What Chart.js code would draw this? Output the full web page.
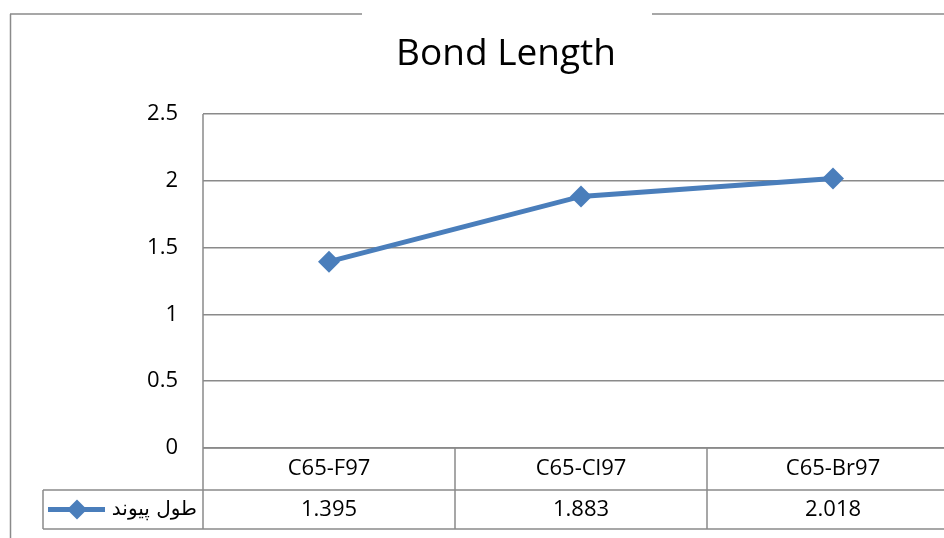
<!DOCTYPE html>
<html>
<head>
<meta charset="utf-8">
<script src="https://cdn.jsdelivr.net/npm/chart.js@4"></script>
<style>
body { margin: 0; overflow: hidden; background: #fff; }
</style>
</head>
<body>
<canvas id="BondChart" width="970" height="538"></canvas>
<script>
// bond length chart with excel style data table

var chartTitle = 'Bond Length';
var seriesName = 'طول پیوند';
var categories = ['C65-F97', 'C65-Cl97', 'C65-Br97'];
var bondLength = [1.395, 1.883, 2.018];
var yMin = 0;
var yMax = 2.5;
var yStep = 0.5;

var lineColor = '#4a7ebb';
var gridColor = '#8a8a8a';
var font = '"Open Sans", "DejaVu Sans", sans-serif';

function hline(ctx, x1, x2, y) {
    ctx.beginPath();
    ctx.moveTo(x1, y);
    ctx.lineTo(x2, y);
    ctx.stroke();
}

function vline(ctx, x, y1, y2) {
    ctx.beginPath();
    ctx.moveTo(x, y1);
    ctx.lineTo(x, y2);
    ctx.stroke();
}

var tablePlugin = {
    id: 'dataTable',
    afterDraw: function(chart) {
        var ctx = chart.ctx;
        var area = chart.chartArea;
        var xs = chart.scales.x;
        var w = chart.width;
        var top = area.bottom;
        var mid = area.bottom + 42;
        var bottom = area.bottom + 81;

        ctx.save();
        ctx.strokeStyle = gridColor;
        ctx.lineWidth = 1.5;

        // outer frame (gap behind the title)
        hline(ctx, 10, 362, 14);
        hline(ctx, 652, w, 14);
        vline(ctx, 10.5, 14, 538);

        // table grid
        vline(ctx, area.left, area.top, bottom);
        hline(ctx, area.left, w, top);
        hline(ctx, 43, w, mid);
        hline(ctx, 43, w, bottom);
        vline(ctx, 43, mid, bottom);
        for (var i = 0; i < categories.length - 1; i++) {
            var b = (xs.getPixelForValue(i) + xs.getPixelForValue(i + 1)) / 2;
            vline(ctx, b, top, bottom);
        }

        // category and value cells
        ctx.fillStyle = '#000';
        ctx.font = '22px ' + font;
        ctx.textAlign = 'center';
        ctx.textBaseline = 'middle';
        for (var j = 0; j < categories.length; j++) {
            var cx = xs.getPixelForValue(j);
            ctx.fillText(categories[j], cx, (top + mid) / 2);
            ctx.fillText(bondLength[j].toFixed(3), cx, (mid + bottom) / 2);
        }

        // legend key
        var ly = (mid + bottom) / 2;
        ctx.textAlign = 'right';
        ctx.font = '20px "DejaVu Sans", sans-serif';
        ctx.fillText(seriesName, area.left - 6, ly);
        ctx.strokeStyle = lineColor;
        ctx.lineWidth = 5;
        hline(ctx, 48, 105, ly);
        ctx.fillStyle = lineColor;
        ctx.beginPath();
        ctx.moveTo(77, ly - 10);
        ctx.lineTo(87, ly);
        ctx.lineTo(77, ly + 10);
        ctx.lineTo(67, ly);
        ctx.closePath();
        ctx.fill();

        // title
        ctx.fillStyle = '#000';
        ctx.textAlign = 'center';
        ctx.font = '37px ' + font;
        ctx.fillText(chartTitle, 506, 54);
        ctx.restore();
    }
};

var ctx = document.getElementById('BondChart');
var myChart = new Chart(ctx, {
    type: 'line',
    data: {
        labels: categories,
        datasets: [{
            label: seriesName,
            data: bondLength,
            borderColor: lineColor,
            backgroundColor: lineColor,
            borderWidth: 5,
            pointStyle: 'rectRot',
            pointRadius: 11,
            pointHoverRadius: 11,
            pointBorderWidth: 0,
            tension: 0
        }]
    },
    options: {
        responsive: false,
        animation: false,
        layout: { padding: { top: 114, bottom: 90, left: 0, right: 0 } },
        plugins: {
            legend: { display: false },
            tooltip: { enabled: false }
        },
        scales: {
            x: {
                display: false,
                offset: true
            },
            y: {
                min: yMin,
                max: yMax,
                ticks: {
                    stepSize: yStep,
                    padding: 25,
                    color: '#000',
                    font: { family: font, size: 22 },
                    callback: function(value) { return String(value); }
                },
                grid: { color: gridColor, lineWidth: 1.5, drawTicks: false },
                border: { display: false },
                afterFit: function(scale) { scale.width = 203; }
            }
        }
    },
    plugins: [tablePlugin]
});
</script>
</body>
</html>
